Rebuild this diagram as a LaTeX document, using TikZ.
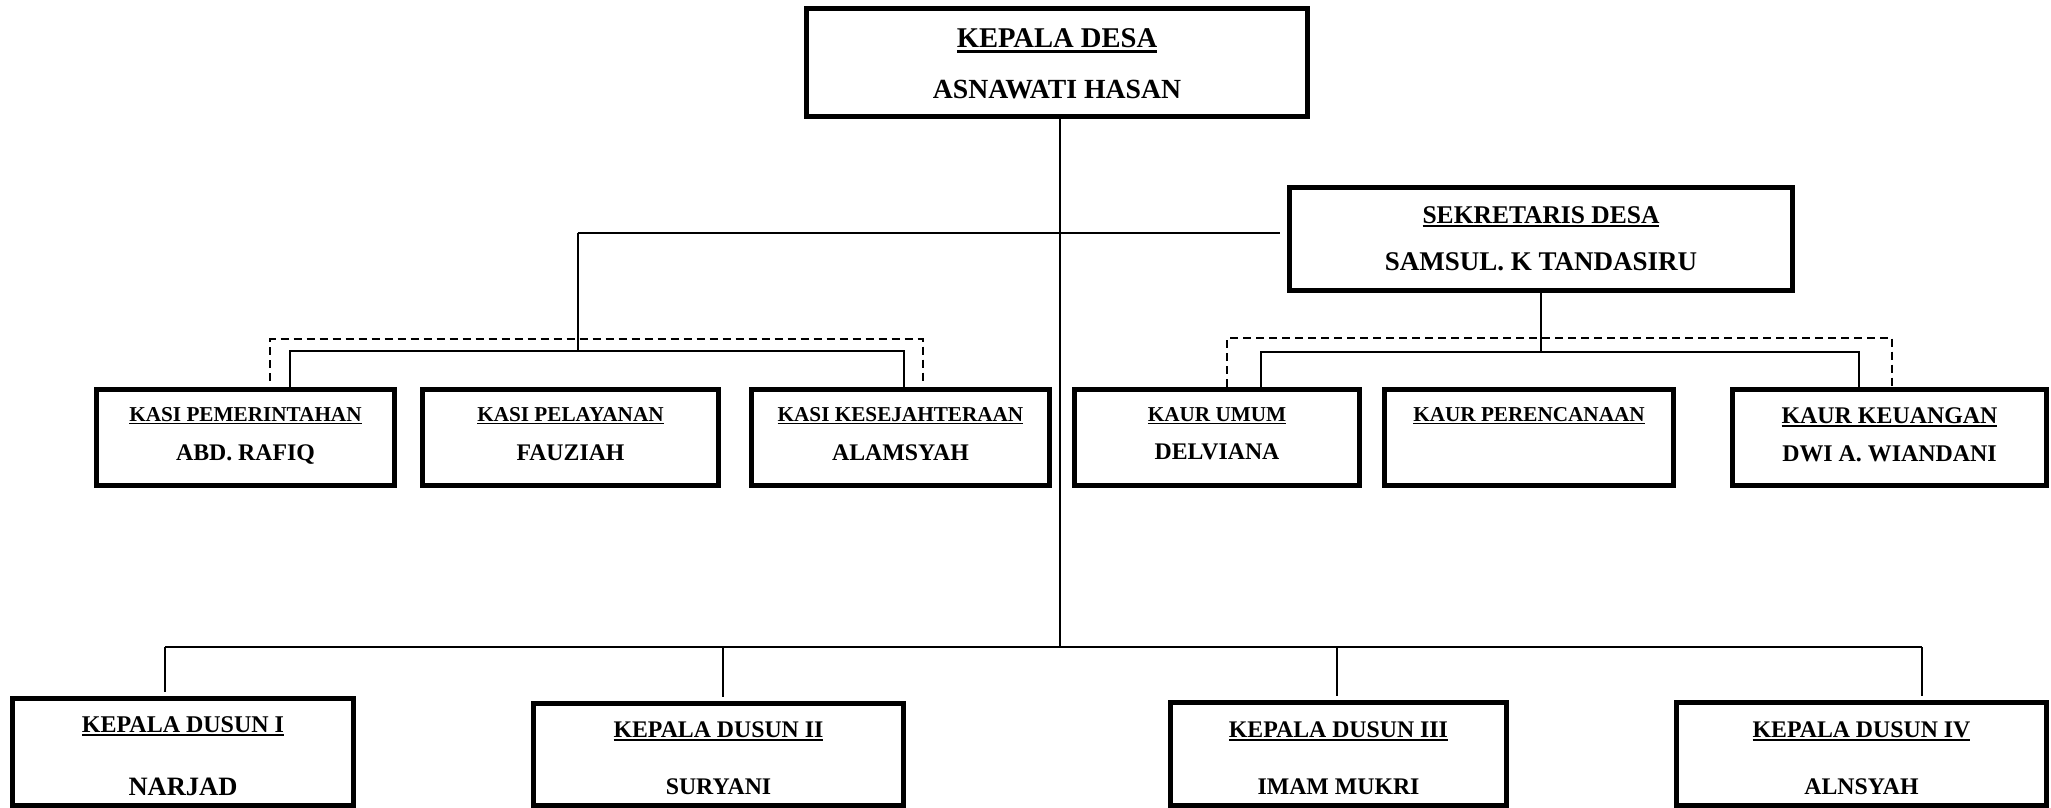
\documentclass[tikz,border=0pt]{standalone}
\usepackage{fontspec}
\setmainfont{Liberation Serif}
\newcommand\ulx[1]{\setbox0\hbox{#1}\rlap{\rule[-0.16em]{\wd0}{0.08em}}\box0}
\newcommand\fsz[1]{\fontsize{#1}{#1}\selectfont}
\newcommand\mkbox[5]{\node[orgbox, minimum width={(#4-#2-5)*0.5pt}, minimum height={(#5-#3-5)*0.5pt}] (#1) at ({(#2+#4)/2},{(#3+#5)/2}) {};}
\tikzset{
  orgbox/.style={draw, rectangle, line width=2.5pt, inner sep=0pt, outer sep=0pt},
  conn/.style={line width=1pt},
  dashln/.style={line width=1pt, dash pattern=on 4pt off 2.5pt},
  txt/.style={anchor=base, inner sep=0pt, outer sep=0pt}
}
\begin{document}
\begin{tikzpicture}[x=0.5pt, y=-0.5pt]
\useasboundingbox (0,0) rectangle (2051,808);
% boxes
\mkbox{kd}{804}{6}{1310}{119}
\mkbox{sek}{1287}{185}{1795}{293}
\mkbox{k1}{94}{387}{397}{488}
\mkbox{k2}{420}{387}{721}{488}
\mkbox{k3}{749}{387}{1052}{488}
\mkbox{u1}{1072}{387}{1362}{488}
\mkbox{u2}{1382}{387}{1676}{488}
\mkbox{u3}{1730}{387}{2049}{488}
\mkbox{d1}{10}{696}{356}{808}
\mkbox{d2}{531}{701}{906}{808}
\mkbox{d3}{1168}{700}{1509}{808}
\mkbox{d4}{1674}{700}{2049}{808}
% texts
\node[txt, font=\bfseries\fsz{14.3}] (tkd1) at (1057,48) {\ulx{KEPALA DESA}};
\node[txt, font=\bfseries\fsz{13.85}] (tkd2) at (1057,98) {ASNAWATI HASAN};
\node[txt, font=\bfseries\fsz{12.75}] (tsek1) at (1541,223) {\ulx{SEKRETARIS DESA}};
\node[txt, font=\bfseries\fsz{13.5}] (tsek2) at (1541,270) {SAMSUL. K TANDASIRU};
\node[txt, font=\bfseries\fsz{10.6}] (tk11) at (245.5,421) {\ulx{KASI PEMERINTAHAN}};
\node[txt, font=\bfseries\fsz{11.9}] (tk12) at (245.5,460) {ABD. RAFIQ};
\node[txt, font=\bfseries\fsz{10.6}] (tk21) at (570.5,421) {\ulx{KASI PELAYANAN}};
\node[txt, font=\bfseries\fsz{11.9}] (tk22) at (570.5,460) {FAUZIAH};
\node[txt, font=\bfseries\fsz{10.6}] (tk31) at (900.5,421) {\ulx{KASI KESEJAHTERAAN}};
\node[txt, font=\bfseries\fsz{11.9}] (tk32) at (900.5,460) {ALAMSYAH};
\node[txt, font=\bfseries\fsz{10.6}] (tu11) at (1217,421) {\ulx{KAUR UMUM}};
\node[txt, font=\bfseries\fsz{11.9}] (tu12) at (1217,459) {DELVIANA};
\node[txt, font=\bfseries\fsz{10.6}] (tu21) at (1529,421) {\ulx{KAUR PERENCANAAN}};
\node[txt, font=\bfseries\fsz{11.95}] (tu31) at (1889.5,423) {\ulx{KAUR KEUANGAN}};
\node[txt, font=\bfseries\fsz{11.95}] (tu32) at (1889.5,461) {DWI A. WIANDANI};
\node[txt, font=\bfseries\fsz{12}] (td11) at (183,732) {\ulx{KEPALA DUSUN I}};
\node[txt, font=\bfseries\fsz{13.25}] (td12) at (183,795) {NARJAD};
\node[txt, font=\bfseries\fsz{11.9}] (td21) at (718.5,737) {\ulx{KEPALA DUSUN II}};
\node[txt, font=\bfseries\fsz{11.9}] (td22) at (718.5,794) {SURYANI};
\node[txt, font=\bfseries\fsz{11.9}] (td31) at (1338.5,737) {\ulx{KEPALA DUSUN III}};
\node[txt, font=\bfseries\fsz{11.9}] (td32) at (1338.5,794) {IMAM MUKRI};
\node[txt, font=\bfseries\fsz{11.9}] (td41) at (1861.5,737) {\ulx{KEPALA DUSUN IV}};
\node[txt, font=\bfseries\fsz{11.9}] (td42) at (1861.5,794) {ALNSYAH};
% junction coordinates
\coordinate (j0) at (1059.5,233);
\coordinate (hL) at (577.5,233);
\coordinate (hR) at (1280,233);
\coordinate (sL1) at (290,351);
\coordinate (sL3) at (904,351);
\coordinate (dL1) at (270,339);
\coordinate (dL3) at (923,339);
\coordinate (sR1) at (1261,351.5);
\coordinate (sR3) at (1859,351.5);
\coordinate (dR1) at (1227,337.5);
\coordinate (dR3) at (1892,337.5);
\coordinate (bL) at (165,647);
\coordinate (bR) at (1921.5,647);
\coordinate (b2) at (722.5,647);
\coordinate (b3) at (1336.5,647);
% connectors
\draw[conn] (kd.south -| j0) -- (j0 |- bL);
\draw[conn] (hL) -- (hR);
\draw[conn] (hL) -- (hL |- sL1);
\draw[conn] (k1.north -| sL1) -- (sL1) -- (sL3) -- (k3.north -| sL3);
\draw[dashln, shorten <=4.5pt, shorten >=4.5pt] (k1.north -| dL1) -- (dL1) -- (dL3) -- (k3.north -| dL3);
\draw[conn] (sek.south) -- (sek.south |- sR1);
\draw[conn] (u1.north -| sR1) -- (sR1) -- (sR3) -- (u3.north -| sR3);
\draw[dashln, shorten <=1.5pt, shorten >=2pt] (u1.north -| dR1) -- (dR1) -- (dR3) -- (u3.north -| dR3);
\draw[conn] (bL) -- (bR);
\draw[conn, shorten >=3.5pt] (bL) -- (d1.north -| bL);
\draw[conn, shorten >=3.5pt] (b2) -- (d2.north -| b2);
\draw[conn, shorten >=3.5pt] (b3) -- (d3.north -| b3);
\draw[conn, shorten >=3.5pt] (bR) -- (d4.north -| bR);
\end{tikzpicture}
\end{document}
